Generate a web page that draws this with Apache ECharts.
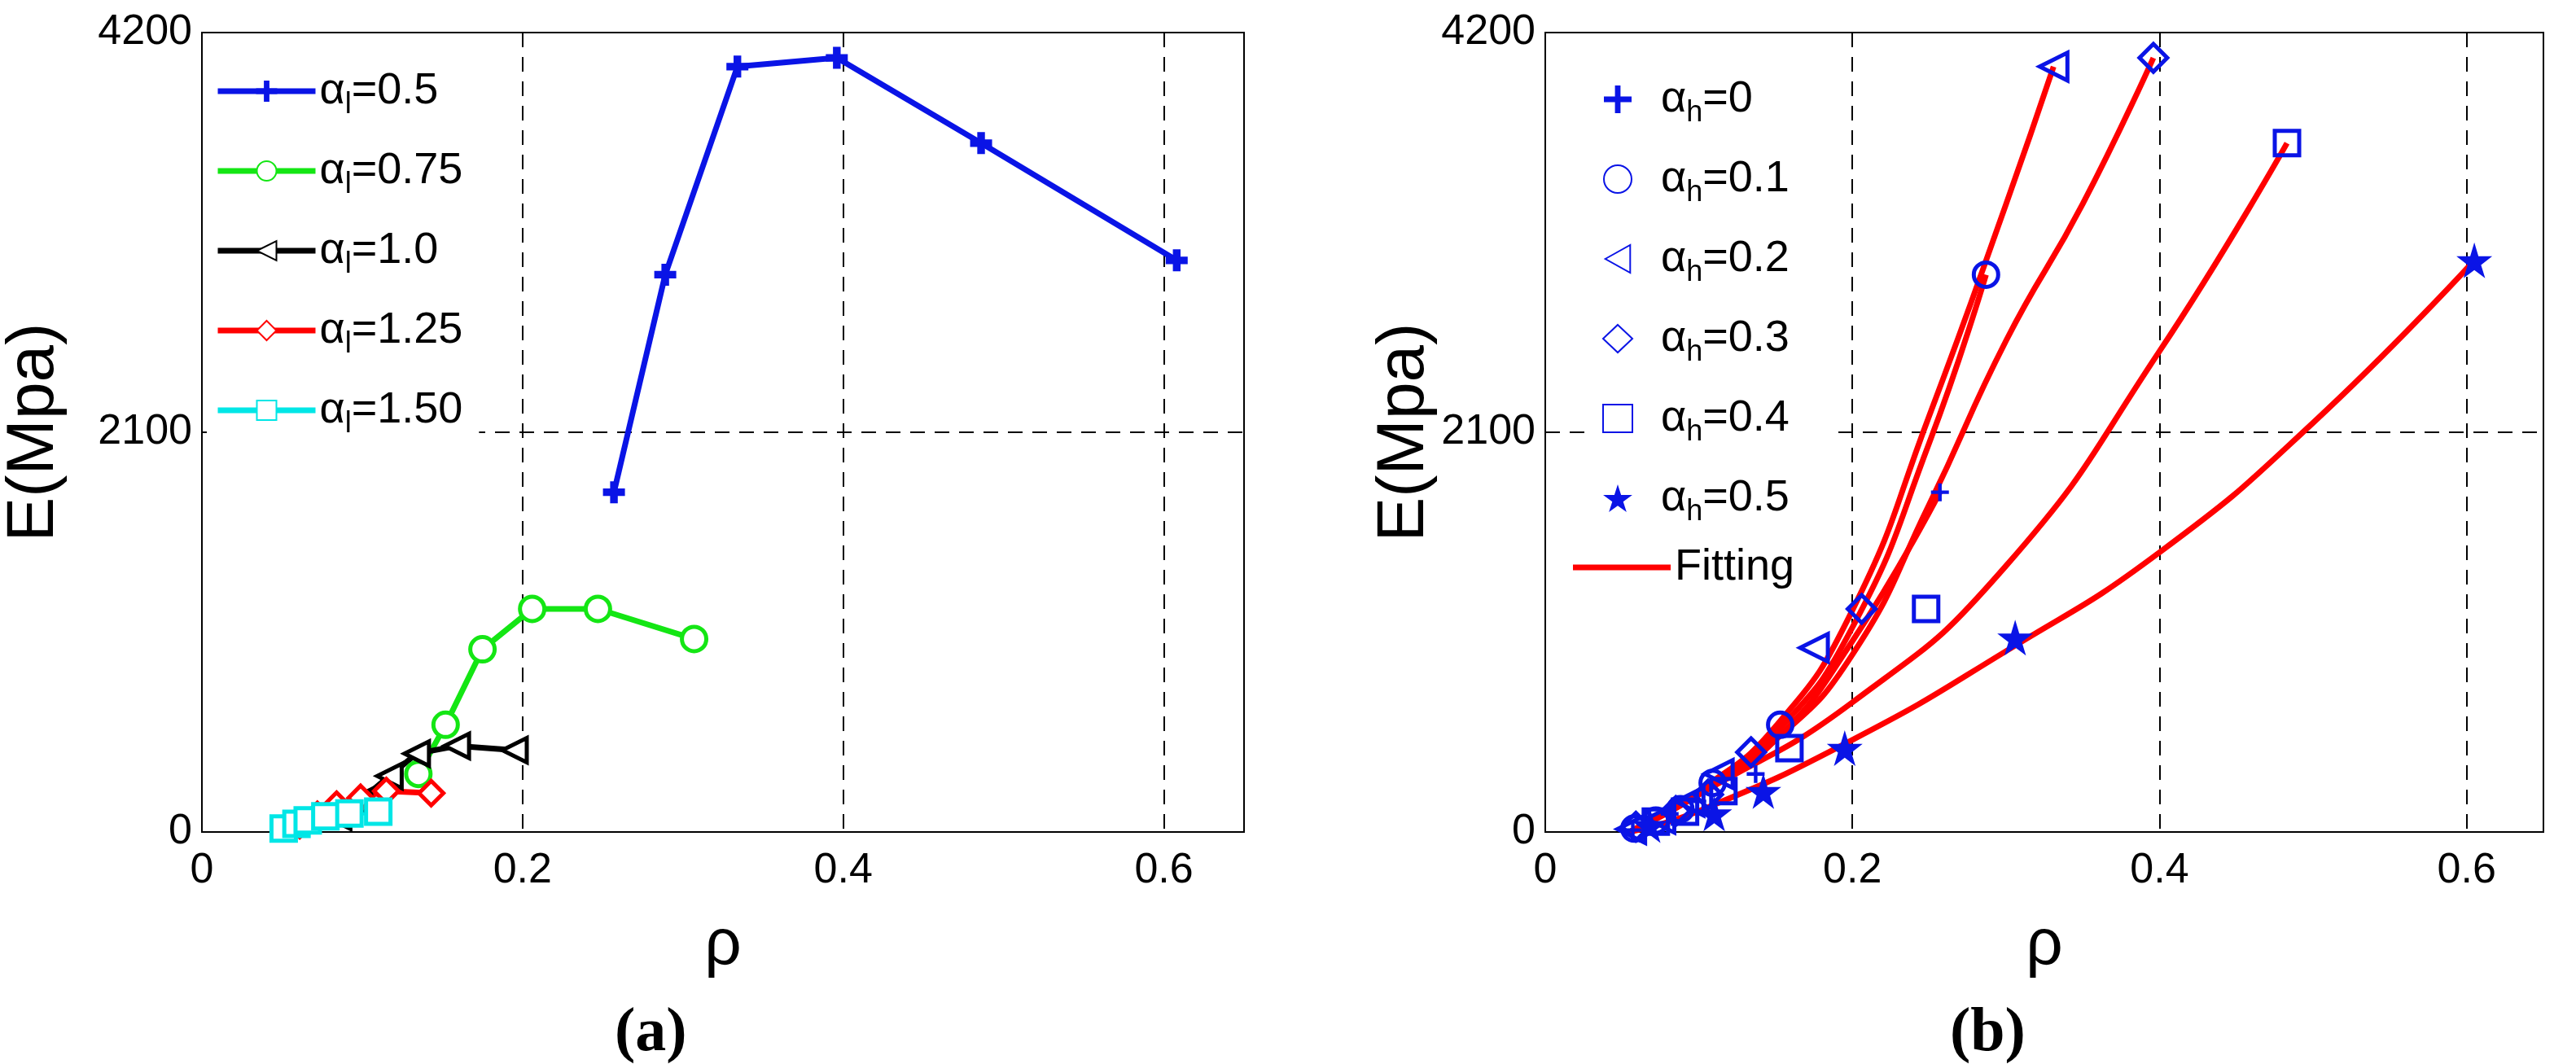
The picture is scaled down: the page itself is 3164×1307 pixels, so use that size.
<!DOCTYPE html>
<html>
<head>
<meta charset="utf-8">
<script src="https://cdn.jsdelivr.net/npm/echarts@6/dist/echarts.min.js"></script>
<style>html,body{margin:0;background:#fff}#main{width:3164px;height:1307px}</style>
</head>
<body>
<div id="main"></div>
<script>
// panel (a): alpha_l series
const aBlue  = [[0.257,1785],[0.289,2928],[0.334,4021],[0.396,4067],[0.486,3619],[0.608,3003]];
const aGreen = [[0.135,305],[0.152,563],[0.175,960],[0.206,1172],[0.247,1172],[0.307,1014]];
const aBlack = [[0.085,80],[0.098,160],[0.117,294],[0.134,412],[0.159,452],[0.195,430]];
const aRed   = [[0.061,36],[0.072,90],[0.084,143],[0.099,179],[0.115,215],[0.143,204]];
const aCyan  = [[0.051,18],[0.059,43],[0.066,61],[0.077,82],[0.092,97],[0.110,107]];

// panel (b): measured points per alpha_h
const b0  = [[0.057,10],[0.066,40],[0.081,95],[0.099,161],[0.137,305],[0.257,1785]];
const b1  = [[0.058,18],[0.072,60],[0.088,120],[0.109,258],[0.153,563],[0.287,2928]];
const b2  = [[0.056,15],[0.075,70],[0.094,160],[0.113,305],[0.175,968],[0.331,4021]];
const b3  = [[0.059,28],[0.085,110],[0.106,197],[0.134,419],[0.206,1172],[0.396,4067]];
const b4  = [[0.072,54],[0.091,107],[0.116,215],[0.159,441],[0.248,1172],[0.483,3619]];
const b5  = [[0.068,36],[0.110,97],[0.142,215],[0.195,441],[0.306,1021],[0.605,3003]];

// fitting curves
const f0 = [[0.055,0],[0.1,197],[0.15,484],[0.2,1003],[0.257,1785]];
const f1 = [[0.055,0],[0.1,204],[0.15,520],[0.2,1075],[0.25,2043],[0.287,2928]];
const f2 = [[0.055,0],[0.1,215],[0.15,555],[0.2,1165],[0.25,2186],[0.3,3297],[0.331,4021]];
const f3 = [[0.055,0],[0.1,215],[0.15,484],[0.2,932],[0.25,1720],[0.3,2580],[0.35,3300],[0.396,4067]];
const f4 = [[0.055,0],[0.1,197],[0.2,681],[0.3,1398],[0.4,2526],[0.483,3619]];
const f5 = [[0.055,0],[0.1,110],[0.2,484],[0.3,950],[0.4,1469],[0.5,2150],[0.605,3003]];

const aNames = ['0.5','0.75','1.0','1.25','1.50'];
const bNames = ['0','0.1','0.2','0.3','0.4','0.5'];

const blue = '#0a14e6';
const clear = 'rgba(0,0,0,0)';
const plus = 'path://M4,0H6V4H10V6H6V10H4V6H0V4H4Z';
const star = 'path://M50,0L61,35H98L68,57L79,91L50,70L21,91L32,57L2,35H39Z';
const triLeft = 'path://M0,5L9,0V10Z';

const sub = {
  a: {fontSize: 54, fontFamily: 'Liberation Sans', color: '#000'},
  s: {fontSize: 36, fontFamily: 'Liberation Sans', color: '#000', padding: [34, 0, 0, 0]}
};

function xAx(gi) {
  return {
    gridIndex: gi, type: 'value', min: 0, max: 0.65, interval: 0.2,
    name: 'ρ', nameLocation: 'middle', nameGap: 100,
    nameTextStyle: {fontSize: 80, fontFamily: 'Liberation Sans', color: '#000'},
    axisLine: {lineStyle: {color: '#000', width: 2}},
    axisTick: {show: false},
    axisLabel: {fontSize: 52, fontFamily: 'Liberation Sans', color: '#000', margin: 22, showMaxLabel: false},
    splitLine: {show: true, lineStyle: {color: '#000', type: [18, 12], width: 2}}
  };
}
function yAx(gi) {
  return {
    gridIndex: gi, type: 'value', min: 0, max: 4200, interval: 2100,
    name: 'E(Mpa)', nameLocation: 'middle', nameGap: gi ? 125 : 165, nameRotate: 90,
    nameTextStyle: {fontSize: 82, fontFamily: 'Liberation Sans', color: '#000'},
    axisLine: {lineStyle: {color: '#000', width: 2}},
    axisTick: {show: false},
    axisLabel: {fontSize: 52, fontFamily: 'Liberation Sans', color: '#000', margin: 12, formatter: v => String(v)},
    splitLine: {show: true, lineStyle: {color: '#000', type: [18, 12], width: 2}}
  };
}

const aColors = [blue, '#14e614', '#000', '#ff0000', '#00e6e6'];
const aSym = [plus, 'circle', triLeft, 'diamond', 'rect'];
const aData = [aBlue, aGreen, aBlack, aRed, aCyan];
const series = [];
aData.forEach((d, i) => {
  series.push({
    name: 'a' + aNames[i], type: 'line', xAxisIndex: 0, yAxisIndex: 0, data: d,
    symbol: aSym[i], symbolSize: i === 0 ? 22 : 30,
    showAllSymbol: true,
    lineStyle: {color: aColors[i], width: 7},
    itemStyle: {color: i === 0 ? aColors[i] : '#fff', borderColor: aColors[i], borderWidth: 5}
  });
});

const bData = [b0, b1, b2, b3, b4, b5];
const bSym = [plus, 'circle', triLeft, 'diamond', 'rect', star];
const bSize = [22, 30, 34, 34, 30, 44];
bData.forEach((d, i) => {
  series.push({
    name: 'b' + bNames[i], type: 'scatter', xAxisIndex: 1, yAxisIndex: 1, data: d,
    symbol: bSym[i], symbolSize: bSize[i], z: 5,
    itemStyle: (i === 0 || i === 5) ? {color: blue, opacity: 1}
      : {color: clear, borderColor: blue, borderWidth: 5, opacity: 1}
  });
});
[f0, f1, f2, f3, f4, f5].forEach(d => {
  series.push({
    name: 'Fitting', type: 'line', xAxisIndex: 1, yAxisIndex: 1, data: d,
    smooth: true, symbol: 'none', lineStyle: {color: '#ff0000', width: 7}, itemStyle: {color: '#ff0000'}
  });
});

const chart = echarts.init(document.getElementById('main'));
chart.setOption({
  backgroundColor: '#fff',
  animation: false,
  grid: [
    {left: 236, right: 1636, top: 40, bottom: 285, show: true, borderColor: '#000', borderWidth: 2},
    {left: 1898, right: 40, top: 40, bottom: 285, show: true, borderColor: '#000', borderWidth: 2}
  ],
  xAxis: [xAx(0), xAx(1)],
  yAxis: [yAx(0), yAx(1)],
  legend: [
    {
      data: aNames.map(n => 'a' + n), orient: 'vertical', left: 254, top: 75,
      itemWidth: 120, itemHeight: 30, itemGap: 36, backgroundColor: '#fff', padding: [10, 20, 10, 10],
      lineStyle: {width: 7},
      formatter: n => '{a|α}{s|l}{a|=' + n.slice(1) + '}',
      textStyle: {rich: sub}
    },
    {
      data: bNames.map(n => 'b' + n), orient: 'vertical', left: 1958, top: 85,
      itemWidth: 36, itemHeight: 34, itemGap: 36, backgroundColor: '#fff', padding: [10, 60, 10, 10],
      formatter: n => '{a|α}{s|h}{a|=' + n.slice(1) + '}',
      textStyle: {rich: sub, padding: [0, 0, 0, 30]}
    },
    {
      data: [{name: 'Fitting', icon: 'rect'}], orient: 'vertical', left: 1922, top: 660,
      itemWidth: 120, itemHeight: 7, backgroundColor: '#fff', padding: [10, 20, 10, 10],
      formatter: '{a|Fitting}',
      textStyle: {rich: sub}
    }
  ],
  graphic: [
    {type: 'text', left: 755, top: 1232, style: {text: '(a)', font: 'bold 76px "Liberation Serif"', fill: '#000'}},
    {type: 'text', left: 2395, top: 1232, style: {text: '(b)', font: 'bold 76px "Liberation Serif"', fill: '#000'}}
  ],
  series: series
});
</script>
</body>
</html>
